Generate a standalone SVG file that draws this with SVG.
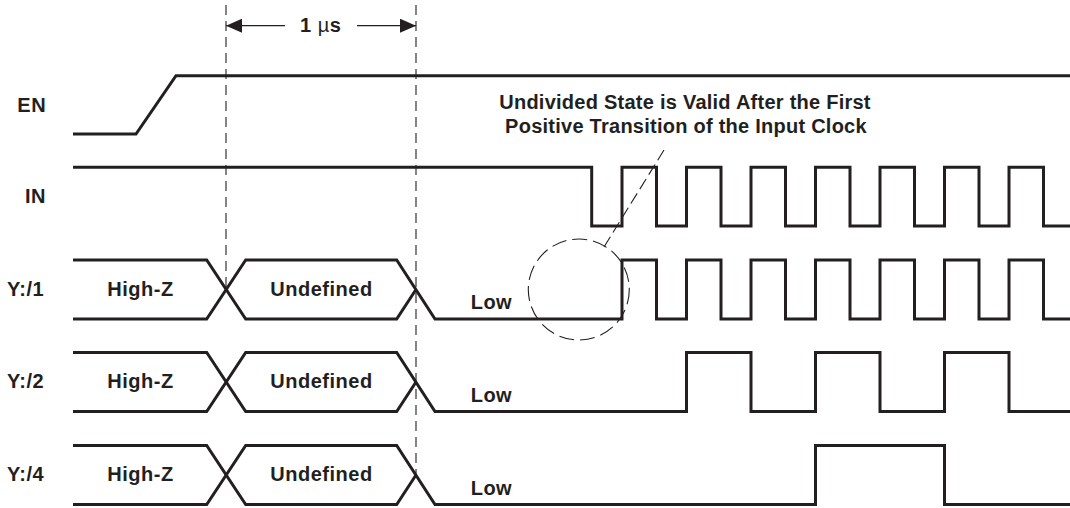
<svg xmlns="http://www.w3.org/2000/svg" width="1070" height="508" viewBox="0 0 1070 508">
<defs>
<style>
.wave{fill:none;stroke:#231f20;stroke-width:3;stroke-linejoin:miter;stroke-linecap:butt}
.dash{fill:none;stroke:#231f20;stroke-width:1.1;stroke-dasharray:10 6}
.circ{fill:none;stroke:#231f20;stroke-width:1.1;stroke-dasharray:15 6}
.lead{fill:none;stroke:#231f20;stroke-width:1.1;stroke-dasharray:12 5}
.dim{fill:none;stroke:#231f20;stroke-width:1.3}
text{font-family:"Liberation Sans",Arial,sans-serif;font-weight:bold;font-size:20px;fill:#231f20;letter-spacing:0.5px}
.mid{text-anchor:middle}
.note{letter-spacing:0.25px;text-anchor:middle}
</style>
<marker id="ah" viewBox="0 0 16 14" refX="16" refY="7" markerWidth="16" markerHeight="14" markerUnits="userSpaceOnUse" orient="auto">
<path d="M0,0 L16,7 L0,14 z" fill="#231f20"/>
</marker>
</defs>
<rect width="1070" height="508" fill="#ffffff"/>

<g id="connectors">
<line class="dash" x1="226" y1="5" x2="226" y2="289"/>
<line class="dash" x1="416" y1="5" x2="416" y2="475"/>
<line class="dim" x1="285" y1="25.7" x2="226" y2="25.7" marker-end="url(#ah)"/>
<line class="dim" x1="357" y1="25.7" x2="416" y2="25.7" marker-end="url(#ah)"/>
<line class="lead" x1="664" y1="150" x2="604" y2="247"/>
</g>

<g id="dim-label"><text x="300" y="32">1 <tspan font-weight="normal">µ</tspan>s</text></g>

<g id="annotation">
<text class="note" x="685" y="109.3">Undivided State is Valid After the First</text>
<text class="note" x="686" y="133.3">Positive Transition of the Input Clock</text>
<ellipse class="circ" cx="578.8" cy="289.5" rx="50.5" ry="50.5"/>
</g>

<g id="EN">
<text x="17.3" y="111.5">EN</text>
<path class="wave" d="M73,134 H136 L176,75.7 H1070"/>
</g>

<g id="IN">
<text x="25" y="203">IN</text>
<path class="wave" d="M73,167.3 H591.7 V226 H622 V167.3 H656.5 V226 H686.5 V167.3 H721 V226 H751 V167.3 H785.5 V226 H815.5 V167.3 H850 V226 H880 V167.3 H914.5 V226 H944.5 V167.3 H979 V226 H1009 V167.3 H1043.5 V226 H1070"/>
</g>

<g id="Y1">
<text x="7" y="295.5">Y:/1</text>
<text class="mid" x="140.5" y="295.5">High-Z</text>
<text class="mid" x="321.5" y="295.5">Undefined</text>
<text x="470.7" y="308.5">Low</text>
<path class="wave" d="M73,260 H206.7 L245.7,319 H396.7 L416,289.5"/>
<path class="wave" d="M73,319 H206.7 L245.7,260 H396.7 L435,319 H622 V260 H656.5 V319 H686.5 V260 H721 V319 H751 V260 H785.5 V319 H815.5 V260 H850 V319 H880 V260 H914.5 V319 H944.5 V260 H979 V319 H1009 V260 H1043.5 V319 H1070"/>
</g>

<g id="Y2">
<text x="7" y="388">Y:/2</text>
<text class="mid" x="140.5" y="388">High-Z</text>
<text class="mid" x="321.5" y="388">Undefined</text>
<text x="470.7" y="401.5">Low</text>
<path class="wave" d="M73,352.5 H206.7 L245.7,411.5 H396.7 L416,382"/>
<path class="wave" d="M73,411.5 H206.7 L245.7,352.5 H396.7 L435,411.5 H686.5 V352.5 H751 V411.5 H815.5 V352.5 H880 V411.5 H944.5 V352.5 H1009 V411.5 H1070"/>
</g>

<g id="Y4">
<text x="7" y="481">Y:/4</text>
<text class="mid" x="140.5" y="481">High-Z</text>
<text class="mid" x="321.5" y="481">Undefined</text>
<text x="470.7" y="494.5">Low</text>
<path class="wave" d="M73,445.5 H206.7 L245.7,504.5 H396.7 L416,475"/>
<path class="wave" d="M73,504.5 H206.7 L245.7,445.5 H396.7 L435,504.5 H815.5 V445.5 H944.5 V504.5 H1070"/>
</g>
</svg>
